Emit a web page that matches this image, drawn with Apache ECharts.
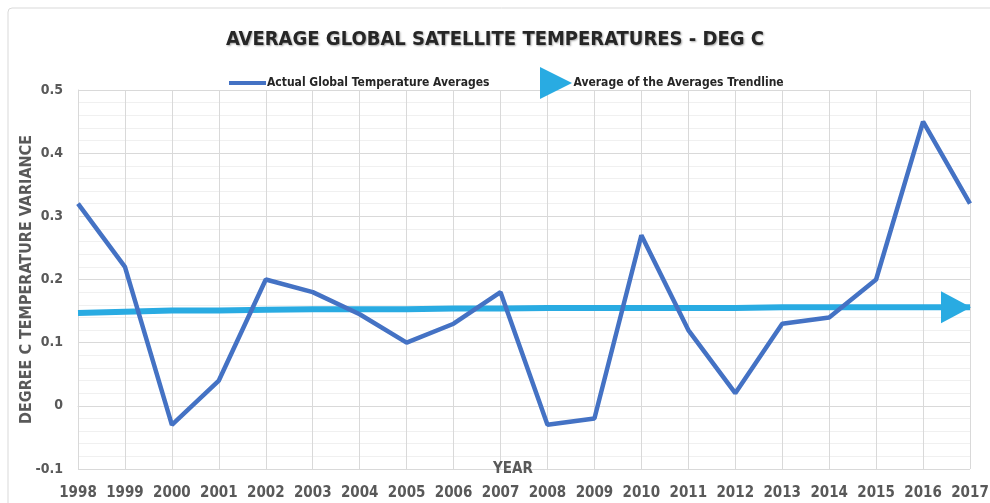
<!DOCTYPE html>
<html>
<head>
<meta charset="utf-8">
<script src="https://cdn.jsdelivr.net/npm/echarts@6/dist/echarts.min.js"></script>
<style>
  html, body { margin: 0; padding: 0; background: #fff; }
  #chart { width: 990px; height: 503px; }
</style>
</head>
<body>
<div id="chart"></div>
<script>
// data
var years = ['1998','1999','2000','2001','2002','2003','2004','2005','2006','2007',
             '2008','2009','2010','2011','2012','2013','2014','2015','2016','2017'];
var actualTemps = [0.32, 0.22, -0.03, 0.04, 0.20, 0.18, 0.145, 0.10, 0.13, 0.18,
                   -0.03, -0.02, 0.27, 0.12, 0.02, 0.13, 0.14, 0.20, 0.45, 0.32];
var trendTemps = [0.147, 0.149, 0.151, 0.151, 0.152, 0.153, 0.153, 0.153, 0.154, 0.154,
                  0.155, 0.155, 0.155, 0.155, 0.155, 0.156, 0.156, 0.156, 0.156, 0.156];

var FONT = "'DejaVu Sans Condensed', 'Liberation Sans Narrow', sans-serif";
var GREY = '#595959';

// only the last trend point gets the arrow head
var trendData = trendTemps.map(function (v, i) {
  if (i === trendTemps.length - 1) {
    return { value: v, symbol: 'triangle', symbolSize: [32, 30], symbolRotate: -90, symbolOffset: [-14, 0] };
  }
  return { value: v, symbol: 'none' };
});

var myChart = echarts.init(document.getElementById('chart'));
var option = {
  animation: false,
  graphic: [{
    type: 'rect',
    shape: { x: 8, y: 8, width: 1000, height: 520, r: 4 },
    style: { fill: 'none', stroke: '#d9d9d9', lineWidth: 1 },
    silent: true
  }],
  title: {
    text: 'AVERAGE GLOBAL SATELLITE TEMPERATURES - DEG C',
    left: 'center',
    top: 25,
    textStyle: {
      fontFamily: FONT, fontSize: 20, fontWeight: 'bold', color: '#262626',
      textShadowColor: 'rgba(0,0,0,0.35)', textShadowBlur: 2, textShadowOffsetX: 1, textShadowOffsetY: 1
    }
  },
  legend: [{
    data: ['Actual Global Temperature Averages'],
    left: 224, top: 72,
    icon: 'rect', itemWidth: 37, itemHeight: 4, itemGap: 0,
    textStyle: { fontFamily: FONT, fontSize: 12, fontWeight: 'bold', color: '#262626', padding: [0, 0, 0, -4] }
  }, {
    data: ['Average of the Averages Trendline'],
    left: 535, top: 62,
    icon: 'path://M0,0L10,5L0,10Z', itemWidth: 33, itemHeight: 32,
    textStyle: { fontFamily: FONT, fontSize: 12, fontWeight: 'bold', color: '#262626', padding: [0, 0, 0, -4] }
  }],
  grid: { left: 78, right: 20, top: 90, bottom: 34, containLabel: false, outerBoundsMode: 'none' },
  xAxis: {
    type: 'category',
    data: years,
    boundaryGap: false,
    name: 'YEAR',
    nameLocation: 'middle',
    nameGap: 0,
    nameMoveOverlap: false,
    nameTextStyle: { fontFamily: FONT, fontSize: 15, fontWeight: 'bold', color: GREY, verticalAlign: 'middle', padding: [0, 22, 0, 0] },
    axisLine: { show: true, lineStyle: { color: '#d9d9d9' } },
    axisTick: { show: false },
    axisLabel: { margin: 17, interval: 0, fontFamily: FONT, fontSize: 15, fontWeight: 'bold', color: GREY },
    splitLine: { show: true, lineStyle: { color: '#d9d9d9' } }
  },
  yAxis: {
    type: 'value',
    min: -0.1, max: 0.5, interval: 0.1,
    name: 'DEGREE C TEMPERATURE VARIANCE',
    nameLocation: 'middle',
    nameGap: 51,
    nameMoveOverlap: false,
    nameTextStyle: { fontFamily: FONT, fontSize: 16, fontWeight: 'bold', color: GREY, verticalAlign: 'middle' },
    axisLine: { show: true, lineStyle: { color: '#d9d9d9' } },
    axisTick: { show: false },
    axisLabel: { margin: 15, fontFamily: FONT, fontSize: 14, fontWeight: 'bold', color: GREY },
    splitLine: { show: true, lineStyle: { color: '#d9d9d9' } },
    minorTick: { show: false, splitNumber: 5 },
    minorSplitLine: { show: true, lineStyle: { color: '#f0f0f0' } }
  },
  series: [{
    name: 'Actual Global Temperature Averages',
    type: 'line',
    data: actualTemps,
    symbol: 'none',
    lineStyle: { color: '#4472c4', width: 4.5 },
    itemStyle: { color: '#4472c4' },
    z: 3
  }, {
    name: 'Average of the Averages Trendline',
    type: 'line',
    data: trendData,
    showSymbol: true,
    lineStyle: { color: '#29abe2', width: 6 },
    itemStyle: { color: '#29abe2' },
    z: 2
  }]
};
myChart.setOption(option);
</script>
</body>
</html>
